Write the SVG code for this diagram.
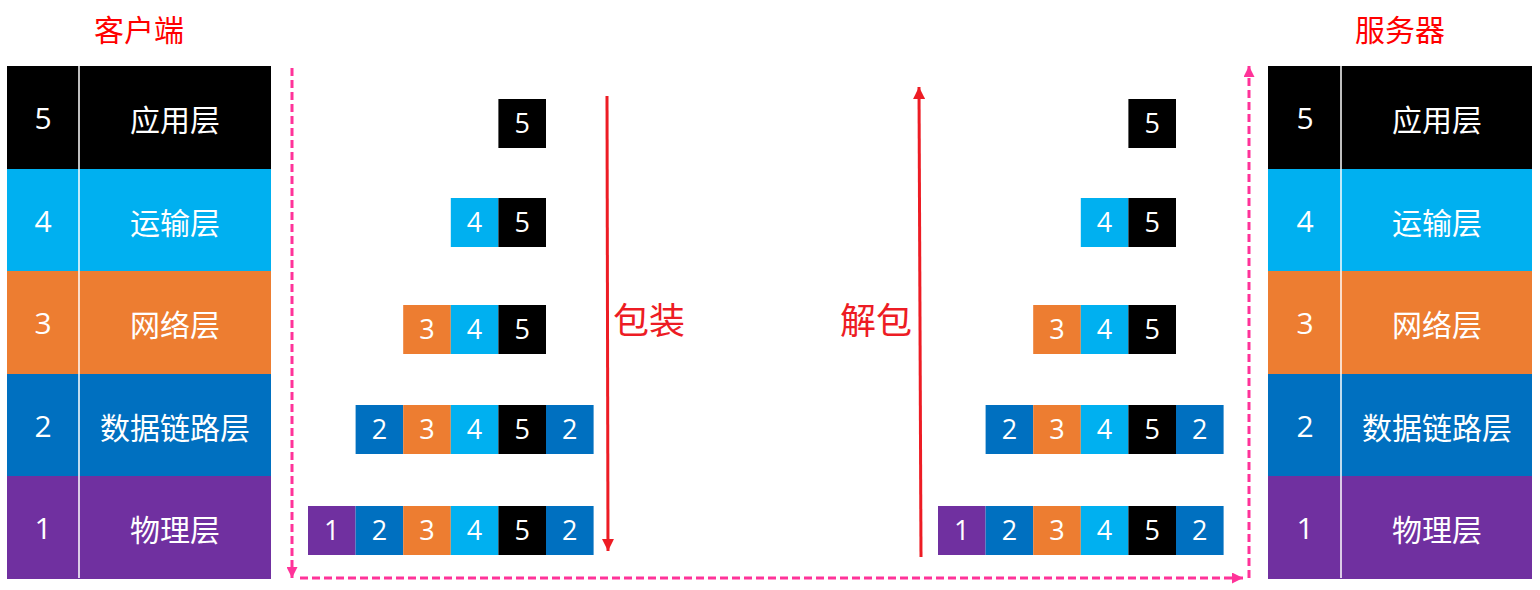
<svg xmlns="http://www.w3.org/2000/svg" width="1540" height="590" viewBox="0 0 1540 590">
<style>
.title{font-family:"Noto Sans CJK SC","Microsoft YaHei",sans-serif;font-size:30px;fill:#FF0000;text-anchor:middle}
.num{font-family:"Open Sans","Noto Sans",sans-serif;font-size:30px;fill:#fff;text-anchor:middle}
.lbl{font-family:"Noto Sans CJK SC",sans-serif;font-size:30px;fill:#fff;text-anchor:middle}
.pn{font-family:"Open Sans","Noto Sans",sans-serif;font-size:27px;fill:#fff;text-anchor:middle}
.act{font-family:"Noto Sans CJK SC",sans-serif;font-size:36px;fill:#ED1C24}
.c5{fill:#000}.c4{fill:#00B0F0}.c3{fill:#ED7D31}.c2{fill:#0070C0}.c1{fill:#7030A0}
.div{stroke:#fff;stroke-width:1.5}
.red{stroke:#ED1C24;stroke-width:3;fill:none}
.pink{stroke:#FF3399;stroke-width:3;fill:none;stroke-dasharray:8 4}
</style>
<defs>
<marker id="ar" markerWidth="12" markerHeight="12" refX="10" refY="5" orient="auto" markerUnits="userSpaceOnUse" viewBox="0 0 10 10"><path d="M0,0 L10,5 L0,10 z" fill="#ED1C24"/></marker>
<marker id="ap" markerWidth="11" markerHeight="11" refX="10" refY="5" orient="auto" markerUnits="userSpaceOnUse" viewBox="0 0 10 10"><path d="M0,0 L10,5 L0,10 z" fill="#FF3399"/></marker>
</defs>

<text class="title" x="139" y="41">客户端</text>
<text class="title" x="1400" y="41">服务器</text>

<g id="client-stack">
<rect class="c5" x="7" y="66" width="264" height="103"/>
<rect class="c4" x="7" y="169" width="264" height="103"/>
<rect class="c3" x="7" y="271" width="264" height="103"/>
<rect class="c2" x="7" y="374" width="264" height="103"/>
<rect class="c1" x="7" y="476" width="264" height="103"/>
<line class="div" x1="79" y1="66" x2="79" y2="578"/>
<text class="num" x="43" y="129">5</text><text class="lbl" x="175" y="131">应用层</text>
<text class="num" x="43" y="232">4</text><text class="lbl" x="175" y="234">运输层</text>
<text class="num" x="43" y="334">3</text><text class="lbl" x="175" y="336">网络层</text>
<text class="num" x="43" y="437">2</text><text class="lbl" x="175" y="439">数据链路层</text>
<text class="num" x="43" y="539">1</text><text class="lbl" x="175" y="541">物理层</text>
</g>

<g id="server-stack">
<rect class="c5" x="1268" y="66" width="264" height="103"/>
<rect class="c4" x="1268" y="169" width="264" height="103"/>
<rect class="c3" x="1268" y="271" width="264" height="103"/>
<rect class="c2" x="1268" y="374" width="264" height="103"/>
<rect class="c1" x="1268" y="476" width="264" height="103"/>
<line class="div" x1="1341" y1="66" x2="1341" y2="578"/>
<text class="num" x="1305" y="129">5</text><text class="lbl" x="1437" y="131">应用层</text>
<text class="num" x="1305" y="232">4</text><text class="lbl" x="1437" y="234">运输层</text>
<text class="num" x="1305" y="334">3</text><text class="lbl" x="1437" y="336">网络层</text>
<text class="num" x="1305" y="437">2</text><text class="lbl" x="1437" y="439">数据链路层</text>
<text class="num" x="1305" y="539">1</text><text class="lbl" x="1437" y="541">物理层</text>
</g>

<g id="client-packets">
<rect class="c5" x="498.4" y="99" width="47.6" height="49"/><text class="pn" x="522.2" y="133">5</text>
<rect class="c4" x="450.8" y="198" width="47.6" height="49"/><text class="pn" x="474.6" y="232">4</text>
<rect class="c5" x="498.4" y="198" width="47.6" height="49"/><text class="pn" x="522.2" y="232">5</text>
<rect class="c3" x="403.2" y="305" width="47.6" height="49"/><text class="pn" x="427" y="339">3</text>
<rect class="c4" x="450.8" y="305" width="47.6" height="49"/><text class="pn" x="474.6" y="339">4</text>
<rect class="c5" x="498.4" y="305" width="47.6" height="49"/><text class="pn" x="522.2" y="339">5</text>
<rect class="c2" x="355.6" y="405" width="47.6" height="49"/><text class="pn" x="379.4" y="439">2</text>
<rect class="c3" x="403.2" y="405" width="47.6" height="49"/><text class="pn" x="427" y="439">3</text>
<rect class="c4" x="450.8" y="405" width="47.6" height="49"/><text class="pn" x="474.6" y="439">4</text>
<rect class="c5" x="498.4" y="405" width="47.6" height="49"/><text class="pn" x="522.2" y="439">5</text>
<rect class="c2" x="546" y="405" width="47.6" height="49"/><text class="pn" x="569.8" y="439">2</text>
<rect class="c1" x="308" y="506" width="47.6" height="49"/><text class="pn" x="331.8" y="540">1</text>
<rect class="c2" x="355.6" y="506" width="47.6" height="49"/><text class="pn" x="379.4" y="540">2</text>
<rect class="c3" x="403.2" y="506" width="47.6" height="49"/><text class="pn" x="427" y="540">3</text>
<rect class="c4" x="450.8" y="506" width="47.6" height="49"/><text class="pn" x="474.6" y="540">4</text>
<rect class="c5" x="498.4" y="506" width="47.6" height="49"/><text class="pn" x="522.2" y="540">5</text>
<rect class="c2" x="546" y="506" width="47.6" height="49"/><text class="pn" x="569.8" y="540">2</text>
</g>

<g id="server-packets" transform="translate(630,0)">
<rect class="c5" x="498.4" y="99" width="47.6" height="49"/><text class="pn" x="522.2" y="133">5</text>
<rect class="c4" x="450.8" y="198" width="47.6" height="49"/><text class="pn" x="474.6" y="232">4</text>
<rect class="c5" x="498.4" y="198" width="47.6" height="49"/><text class="pn" x="522.2" y="232">5</text>
<rect class="c3" x="403.2" y="305" width="47.6" height="49"/><text class="pn" x="427" y="339">3</text>
<rect class="c4" x="450.8" y="305" width="47.6" height="49"/><text class="pn" x="474.6" y="339">4</text>
<rect class="c5" x="498.4" y="305" width="47.6" height="49"/><text class="pn" x="522.2" y="339">5</text>
<rect class="c2" x="355.6" y="405" width="47.6" height="49"/><text class="pn" x="379.4" y="439">2</text>
<rect class="c3" x="403.2" y="405" width="47.6" height="49"/><text class="pn" x="427" y="439">3</text>
<rect class="c4" x="450.8" y="405" width="47.6" height="49"/><text class="pn" x="474.6" y="439">4</text>
<rect class="c5" x="498.4" y="405" width="47.6" height="49"/><text class="pn" x="522.2" y="439">5</text>
<rect class="c2" x="546" y="405" width="47.6" height="49"/><text class="pn" x="569.8" y="439">2</text>
<rect class="c1" x="308" y="506" width="47.6" height="49"/><text class="pn" x="331.8" y="540">1</text>
<rect class="c2" x="355.6" y="506" width="47.6" height="49"/><text class="pn" x="379.4" y="540">2</text>
<rect class="c3" x="403.2" y="506" width="47.6" height="49"/><text class="pn" x="427" y="540">3</text>
<rect class="c4" x="450.8" y="506" width="47.6" height="49"/><text class="pn" x="474.6" y="540">4</text>
<rect class="c5" x="498.4" y="506" width="47.6" height="49"/><text class="pn" x="522.2" y="540">5</text>
<rect class="c2" x="546" y="506" width="47.6" height="49"/><text class="pn" x="569.8" y="540">2</text>
</g>

<g id="connectors">
<line class="red" x1="607" y1="96" x2="608" y2="551" marker-end="url(#ar)"/>
<line class="red" x1="921" y1="557" x2="919" y2="87" marker-end="url(#ar)"/>
<line class="pink" x1="292" y1="68" x2="292" y2="578" marker-end="url(#ap)"/>
<line class="pink" x1="300" y1="578" x2="1243" y2="578" marker-end="url(#ap)"/>
<line class="pink" x1="1249" y1="578" x2="1249" y2="66" marker-end="url(#ap)"/>
</g>

<text class="act" x="613" y="334">包装</text>
<text class="act" x="840" y="334">解包</text>
</svg>
